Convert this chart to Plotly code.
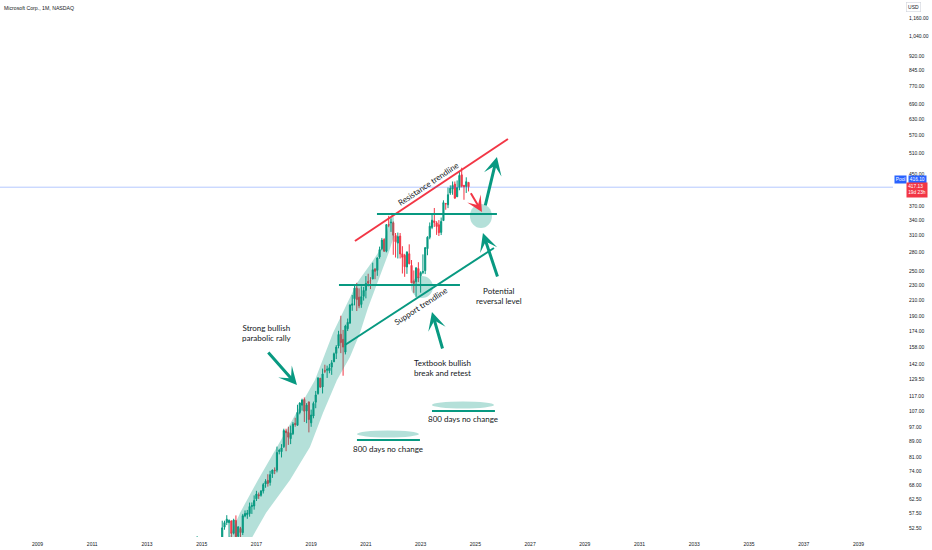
import math
import plotly.graph_objects as go

# ---------------- data (MSFT monthly OHLC, USD) ----------------
months = [
    "2014-09", "2014-10", "2014-11", "2014-12",
    "2015-01", "2015-02", "2015-03", "2015-04", "2015-05", "2015-06",
    "2015-07", "2015-08", "2015-09", "2015-10", "2015-11", "2015-12",
    "2016-01", "2016-02", "2016-03", "2016-04", "2016-05", "2016-06",
    "2016-07", "2016-08", "2016-09", "2016-10", "2016-11", "2016-12",
    "2017-01", "2017-02", "2017-03", "2017-04", "2017-05", "2017-06",
    "2017-07", "2017-08", "2017-09", "2017-10", "2017-11", "2017-12",
    "2018-01", "2018-02", "2018-03", "2018-04", "2018-05", "2018-06",
    "2018-07", "2018-08", "2018-09", "2018-10", "2018-11", "2018-12",
    "2019-01", "2019-02", "2019-03", "2019-04", "2019-05", "2019-06",
    "2019-07", "2019-08", "2019-09", "2019-10", "2019-11", "2019-12",
    "2020-01", "2020-02", "2020-03", "2020-04", "2020-05", "2020-06",
    "2020-07", "2020-08", "2020-09", "2020-10", "2020-11", "2020-12",
    "2021-01", "2021-02", "2021-03", "2021-04", "2021-05", "2021-06",
    "2021-07", "2021-08", "2021-09", "2021-10", "2021-11", "2021-12",
    "2022-01", "2022-02", "2022-03", "2022-04", "2022-05", "2022-06",
    "2022-07", "2022-08", "2022-09", "2022-10", "2022-11", "2022-12",
    "2023-01", "2023-02", "2023-03", "2023-04", "2023-05", "2023-06",
    "2023-07", "2023-08", "2023-09", "2023-10", "2023-11", "2023-12",
    "2024-01", "2024-02", "2024-03", "2024-04", "2024-05", "2024-06",
    "2024-07", "2024-08", "2024-09", "2024-10",
]
opens = [
    45.43, 46.27, 46.70, 47.88,
    46.66, 40.59, 43.67, 40.60, 48.06, 47.06,
    44.48, 46.72, 42.17, 44.75, 52.85, 54.41,
    54.32, 54.88, 50.97, 55.05, 50.00, 52.44,
    51.13, 56.60, 57.01, 57.41, 59.97, 60.11,
    62.79, 64.36, 64.13, 65.81, 68.68, 70.24,
    69.33, 73.10, 74.71, 74.71, 83.68, 83.60,
    86.13, 94.79, 93.99, 90.47, 93.21, 99.28,
    98.10, 106.03, 110.85, 114.75, 107.05, 113.00,
    99.55, 103.78, 112.89, 118.95, 130.53, 123.85,
    136.63, 137.00, 136.61, 139.66, 144.26, 151.81,
    158.78, 170.43, 165.31, 153.00, 176.25, 182.54,
    203.14, 211.52, 225.51, 213.49, 204.29, 214.51,
    222.53, 235.06, 235.90, 238.47, 253.40, 251.23,
    272.56, 286.36, 302.87, 282.12, 331.36, 335.13,
    335.35, 310.41, 296.40, 309.37, 277.71, 275.20,
    256.39, 277.82, 258.87, 235.41, 234.60, 253.87,
    243.08, 248.00, 250.76, 286.52, 306.97, 325.93,
    339.19, 335.19, 331.31, 316.28, 339.79, 376.76,
    373.86, 401.83, 411.27, 423.95, 392.61, 415.60,
    448.66, 420.79, 417.91, 428.45,
]
highs = [
    47.57, 47.18, 50.05, 49.06,
    47.91, 44.30, 44.19, 49.54, 48.91, 47.77,
    47.28, 48.41, 44.75, 54.98, 54.98, 56.85,
    55.39, 55.09, 55.64, 56.77, 53.00, 52.95,
    57.29, 58.50, 58.70, 61.37, 61.41, 64.10,
    65.91, 65.24, 66.19, 69.14, 70.74, 72.89,
    74.42, 74.96, 75.97, 86.20, 85.06, 87.50,
    96.07, 96.07, 97.24, 97.90, 99.99, 102.69,
    111.15, 112.78, 115.29, 116.18, 112.24, 113.42,
    107.90, 113.24, 120.82, 131.37, 130.65, 138.40,
    141.68, 140.94, 142.37, 145.67, 152.50, 159.55,
    174.05, 190.70, 175.00, 180.59, 187.51, 204.40,
    216.38, 231.15, 232.86, 225.21, 228.12, 227.18,
    242.64, 246.13, 241.05, 263.19, 254.35, 271.65,
    290.15, 305.84, 305.32, 332.00, 349.67, 344.30,
    338.00, 315.12, 315.95, 315.11, 290.88, 277.69,
    282.00, 294.18, 267.45, 251.04, 255.33, 263.92,
    249.83, 276.76, 289.27, 308.93, 335.94, 351.47,
    366.78, 338.54, 340.86, 346.20, 384.30, 378.16,
    415.32, 420.82, 430.82, 430.82, 433.60, 456.17,
    468.35, 421.78, 441.85, 428.48,
]
lows = [
    44.72, 41.48, 46.45, 45.49,
    40.23, 40.12, 40.06, 40.12, 46.36, 44.10,
    43.75, 39.72, 41.82, 43.75, 52.05, 53.54,
    49.10, 48.19, 50.58, 49.35, 49.46, 48.04,
    50.39, 56.14, 55.61, 56.32, 57.28, 58.80,
    61.95, 62.75, 63.62, 64.85, 67.14, 67.60,
    68.02, 71.28, 72.92, 73.71, 82.24, 80.70,
    85.50, 83.83, 87.08, 87.51, 92.45, 97.26,
    98.00, 104.84, 107.23, 100.11, 99.35, 93.96,
    97.20, 102.35, 108.80, 118.10, 123.04, 119.01,
    134.67, 130.78, 134.51, 133.22, 143.97, 146.65,
    156.51, 152.00, 132.52, 150.83, 173.80, 181.35,
    196.51, 203.13, 196.25, 199.62, 200.12, 209.11,
    211.94, 227.88, 224.26, 238.05, 238.07, 243.00,
    269.60, 283.74, 281.62, 280.25, 326.37, 317.25,
    276.05, 271.52, 270.00, 270.00, 246.44, 241.51,
    245.94, 260.66, 232.73, 219.13, 213.43, 233.87,
    219.35, 245.47, 245.61, 275.37, 303.40, 322.50,
    327.00, 311.55, 309.45, 311.21, 339.65, 362.90,
    366.50, 397.22, 397.39, 388.03, 392.04, 408.50,
    415.55, 385.58, 401.80, 405.50,
]
closes = [
    46.36, 46.95, 47.81, 46.45,
    40.40, 43.85, 40.66, 48.64, 46.86, 44.15,
    46.70, 43.52, 44.26, 52.64, 54.35, 55.48,
    55.09, 50.88, 55.23, 49.87, 53.00, 51.17,
    56.68, 57.46, 57.60, 59.92, 60.26, 62.14,
    64.65, 63.98, 65.86, 68.46, 69.84, 68.93,
    72.70, 74.77, 74.49, 83.18, 84.17, 85.54,
    95.01, 93.77, 91.27, 93.52, 98.84, 98.61,
    106.08, 112.33, 114.37, 106.81, 110.89, 101.57,
    104.43, 112.03, 117.94, 130.60, 123.68, 133.96,
    136.27, 137.86, 139.03, 143.37, 151.38, 157.70,
    170.23, 162.01, 157.71, 179.21, 183.25, 203.51,
    205.01, 225.53, 210.33, 202.47, 214.07, 222.42,
    231.96, 232.38, 235.77, 252.18, 249.68, 270.90,
    284.91, 301.88, 281.92, 331.62, 330.59, 336.32,
    310.98, 298.79, 308.31, 277.52, 271.87, 256.83,
    280.74, 261.47, 232.90, 232.13, 255.14, 239.82,
    247.81, 249.42, 288.30, 307.26, 328.39, 340.54,
    335.92, 327.76, 315.75, 338.11, 378.91, 376.04,
    397.58, 413.64, 420.72, 389.33, 415.13, 446.95,
    418.35, 417.14, 430.30, 417.13,
]

year_ticks = [2009, 2011, 2013, 2015, 2017, 2019, 2021, 2023, 2025,
              2027, 2029, 2031, 2033, 2035, 2037, 2039]
price_ticks = [1160, 1040, 920, 845, 770, 690, 630, 570, 510, 450,
               370, 340, 310, 280, 250, 230, 210, 190, 174, 158, 142,
               129.5, 117, 107, 97, 89, 81, 74, 68, 62.5, 57.5, 52.5]
price_tick_text = [f"{v:,.2f}" for v in price_ticks]

last_price = 417.13
pool_price = 416.10

# ---------------- drawing geometry (data units: year, price) ----------------
band_x = [2015.778, 2015.887, 2016.399, 2017.056, 2017.751, 2018.445, 2019.139,
          2019.797, 2020.235, 2020.673, 2021.221, 2021.587, 2021.769, 2021.879,
          2021.952, 2022.025, 2022.025, 2021.842, 2021.404, 2021.075, 2020.783,
          2020.418, 2019.943, 2019.431, 2018.956, 2018.226, 2017.349, 2016.764,
          2016.581]
band_p = [46.0, 47.46, 57.64, 70.39, 86.00, 105.7, 129.2,
          171.8, 200.0, 232.7, 264.3, 289.5, 317.1, 345.3,
          358.1, 345.3, 309.5, 280.8, 232.7, 200.0, 171.8,
          148.5, 129.2, 105.7, 86.00, 70.39, 57.64, 48.91,
          46.0]

GREEN = "#089981"
RED = "#f23645"
TXT = "#131722"
FILL = "rgba(8,153,129,0.30)"


def mx(m):
    y, mo = m.split("-")
    return int(y) + (int(mo) - 1) / 12.0


x = [mx(m) for m in months]
L = math.log10

fig = go.Figure()

# rally band
fig.add_trace(go.Scatter(x=band_x, y=band_p, mode="lines", fill="toself",
                         fillcolor=FILL, line=dict(width=0, color=FILL),
                         hoverinfo="skip"))

fig.add_trace(go.Candlestick(
    x=x, open=opens, high=highs, low=lows, close=closes,
    increasing=dict(line=dict(color=GREEN, width=1), fillcolor=GREEN),
    decreasing=dict(line=dict(color=RED, width=1), fillcolor=RED),
    whiskerwidth=0, hoverinfo="skip"))

lines = [
    ((2020.600, 300.2), (2026.190, 557.5), RED),      # resistance trendline
    ((2020.235, 159.7), (2025.679, 287.7), GREEN),    # support trendline
    ((2021.404, 353.8), (2025.788, 353.8), GREEN),    # upper level
    ((2020.016, 229.9), (2024.437, 229.9), GREEN),    # lower level
    ((2020.673, 89.74), (2022.975, 89.74), GREEN),    # 800 days 1
    ((2023.414, 107.0), (2025.715, 107.0), GREEN),    # 800 days 2
]
for (x0, p0), (x1, p1), c in lines:
    fig.add_trace(go.Scatter(x=[x0, x1], y=[p0, p1], mode="lines",
                             line=dict(color=c, width=2), hoverinfo="skip"))

shapes = []
ellipses = [
    (2022.647, 2023.450, 212.5, 242.8),
    (2024.802, 2025.606, 324.9, 376.0),
    (2020.673, 2022.939, 91.1, 95.07),
    (2023.414, 2025.679, 108.65, 113.37),
]
for x0, x1, y0, y1 in ellipses:
    shapes.append(dict(type="circle", xref="x", yref="y", x0=x0, x1=x1,
                       y0=y0, y1=y1, fillcolor=FILL, line=dict(width=0)))
shapes.append(dict(type="line", xref="paper", yref="y", x0=0, x1=1,
                   y0=pool_price, y1=pool_price,
                   line=dict(color="rgba(41,98,255,0.35)", width=1)))

ann = []
AF = dict(family="Lato, sans-serif", size=8, color=TXT)
texts = [
    ("Strong bullish<br>parabolic rally", 2017.385, 171.3, 0),
    ("Potential<br>reversal level", 2025.862, 214.4, 0),
    ("Textbook bullish<br>break and retest", 2023.815, 138.5, 0),
    ("800 days no change", 2021.806, 84.97, 0),
    ("800 days no change", 2024.546, 101.9, 0),
    ("Resistance trendline", 2023.268, 424.6, -33.7),
    ("Support trendline", 2023.012, 202.4, -33.0),
]
for t, tx, tp, ang in texts:
    ann.append(dict(text=t, x=tx, y=L(tp), xref="x", yref="y",
                    showarrow=False, textangle=ang, font=AF,
                    xanchor="center", yanchor="middle"))

arrows = [
    ((2017.385, 154.0), (2018.481, 125.3), GREEN, 3, 1.0),
    ((2024.802, 404.5), (2025.240, 358.1), RED, 2, 1.3),
    ((2025.350, 369.1), (2025.788, 500.0), GREEN, 3, 1.0),
    ((2025.825, 239.9), (2025.277, 315.2), GREEN, 3, 1.0),
    ((2023.815, 154.9), (2023.414, 195.2), GREEN, 3, 1.0),
]
for (tx, tp), (hx, hp), c, w, s in arrows:
    ann.append(dict(text="", x=hx, y=L(hp), ax=tx, ay=L(tp),
                    xref="x", yref="y", axref="x", ayref="y",
                    showarrow=True, arrowhead=3, arrowwidth=w, arrowsize=s,
                    arrowcolor=c, standoff=0, startstandoff=0))

SFONT = "Liberation Sans, Arial, sans-serif"
SF = dict(family=SFONT, size=5, color=TXT)
WF = dict(family=SFONT, size=4.8, color="white")
ann.append(dict(text="Microsoft Corp., 1M, NASDAQ", xref="paper", yref="paper",
                x=0, y=1, xanchor="left", yanchor="top", xshift=2, yshift=-3,
                showarrow=False, font=dict(family=SFONT, size=5.2, color=TXT)))
ann.append(dict(text="USD", xref="paper", yref="paper", x=1, y=1,
                xanchor="left", yanchor="top", xshift=13, yshift=-2,
                showarrow=False, font=SF, bordercolor="#d1d4dc",
                borderwidth=0.6, borderpad=1.5, bgcolor="white"))
ann.append(dict(text="Pool", xref="paper", yref="y", x=1, y=L(436.0),
                xanchor="left", yanchor="middle", xshift=1, showarrow=False,
                font=WF, bgcolor="#2962ff", borderpad=0.8))
ann.append(dict(text=f"{pool_price:.2f}", xref="paper", yref="y", x=1, y=L(436.0),
                xanchor="left", yanchor="middle", xshift=15, showarrow=False,
                font=WF, bgcolor="#2962ff", borderpad=0.8))
ann.append(dict(text=f"{last_price:.2f}<br>19d 23h", xref="paper", yref="y", x=1,
                y=L(409.0), xanchor="left", yanchor="middle", xshift=13,
                showarrow=False, align="left", font=WF,
                bgcolor=RED, borderpad=1.2))

fig.update_layout(
    width=932, height=550,
    margin=dict(l=0, r=39, t=0, b=13),
    paper_bgcolor="white", plot_bgcolor="white",
    showlegend=False, hovermode=False,
    shapes=shapes, annotations=ann,
    xaxis=dict(range=[2007.630, 2040.26], tickmode="array",
               tickvals=year_ticks, ticktext=[str(v) for v in year_ticks],
               showgrid=False, zeroline=False, showline=False, ticks="",
               tickfont=SF, rangeslider=dict(visible=False),
               ticklabelstandoff=3, fixedrange=True, automargin=False),
    yaxis=dict(type="log", side="right",
               range=[L(49.8), L(1296)], tickmode="array",
               tickvals=price_ticks, ticktext=price_tick_text,
               showgrid=False, zeroline=False, showline=False, ticks="",
               tickfont=SF, ticklabelstandoff=15, fixedrange=True,
               automargin=False),
)

fig.write_html(
    "out.html",
    config={"displayModeBar": False},
    post_script="document.body.style.margin='0';document.body.style.overflow='hidden';",
)
